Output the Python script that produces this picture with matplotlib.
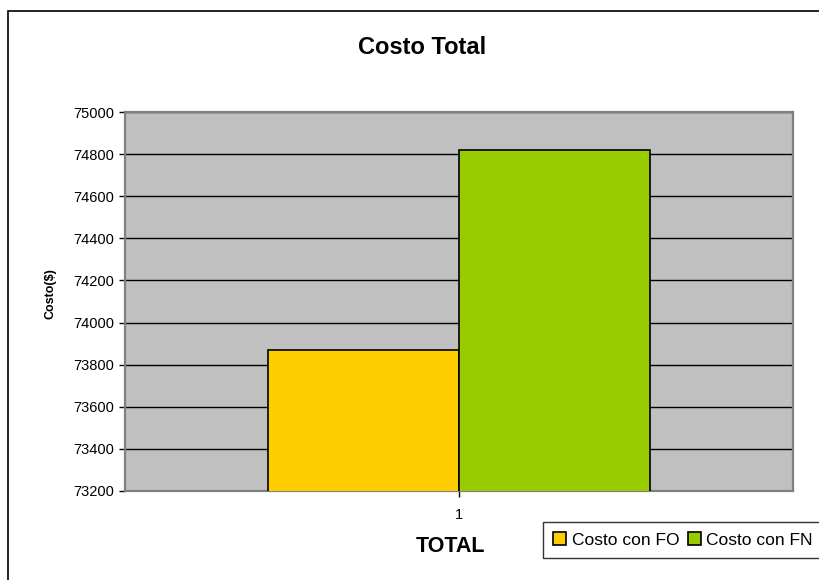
import matplotlib
matplotlib.use("Agg")
import matplotlib.pyplot as plt
from matplotlib.patches import Rectangle
import numpy as np

plt.rcParams['font.family'] = ['Liberation Sans', 'DejaVu Sans']

categories = ["1"]
series_names = ["Costo con FO", "Costo con FN"]
series_values = [[73870], [74820]]
series_colors = ["#FFCC00", "#99CC00"]
y_ticks = [73200, 73400, 73600, 73800, 74000, 74200, 74400, 74600, 74800, 75000]

W, H = 819, 580
fig = plt.figure(figsize=(W / 100, H / 100), dpi=100)
fig.patch.set_facecolor("white")

# outer chart frame (runs past the right and bottom edges of the canvas)
fig.patches.append(Rectangle((8 / W, -1.0), 2.0, 2.0 - 11 / H, transform=fig.transFigure,
                             fill=False, edgecolor="black", linewidth=1.2, zorder=0))

left, right, top, bottom = 125, 793, 112, 491
ax = fig.add_axes([left / W, 1 - bottom / H, (right - left) / W, (bottom - top) / H])
ax.set_facecolor("#C0C0C0")

x = np.arange(len(categories))
group = 1 / 1.75
bw = group / len(series_names)
for i, (name, vals, col) in enumerate(zip(series_names, series_values, series_colors)):
    off = -group / 2 + bw * (i + 0.5)
    ax.bar(x + off, vals, width=bw, color=col, edgecolor="black", linewidth=1.2,
           label=name, zorder=3)

ax.set_ylim(y_ticks[0], y_ticks[-1])
ax.set_xlim(-0.5, len(categories) - 0.5)
ax.set_yticks(y_ticks)
ax.set_yticklabels([str(t) for t in y_ticks], fontsize=10.5)
ax.set_xticks(x)
ax.set_xticklabels(categories, fontsize=10.5)
ax.yaxis.grid(True, color="black", linewidth=1.0, zorder=1)
ax.set_axisbelow(True)
for s in ax.spines.values():
    s.set_color("#808080")
    s.set_linewidth(1.6)
ax.tick_params(axis="y", length=4, width=1, color="black", pad=4)
ax.tick_params(axis="x", length=4, width=1, color="black", pad=8)

ax.set_ylabel("Costo($)", fontsize=9, fontweight="bold")
ax.yaxis.label.set_va("center")
ax.yaxis.set_label_coords((50 - left) / (right - left), (bottom - 294) / (bottom - top))
ax.set_xlabel("TOTAL", fontsize=15.5, fontweight="bold")
ax.xaxis.set_label_coords((450 - left) / (right - left), -(547 - bottom) / (bottom - top))
ax.xaxis.label.set_va("center")
fig.text(422 / W, 1 - 47 / H, "Costo Total", ha="center", va="center",
         fontsize=17, fontweight="bold")

leg = fig.legend(loc="upper left", bbox_to_anchor=(543 / W, 1 - 522 / H),
                 bbox_transform=fig.transFigure, ncol=2, fontsize=12.5,
                 frameon=True, fancybox=False, edgecolor="black", handlelength=0.75,
                 handleheight=0.75, handletextpad=0.3, columnspacing=0.5,
                 borderpad=0.6, borderaxespad=0)
leg.get_frame().set_linewidth(1.0)

fig.savefig("out.png", dpi=100)
